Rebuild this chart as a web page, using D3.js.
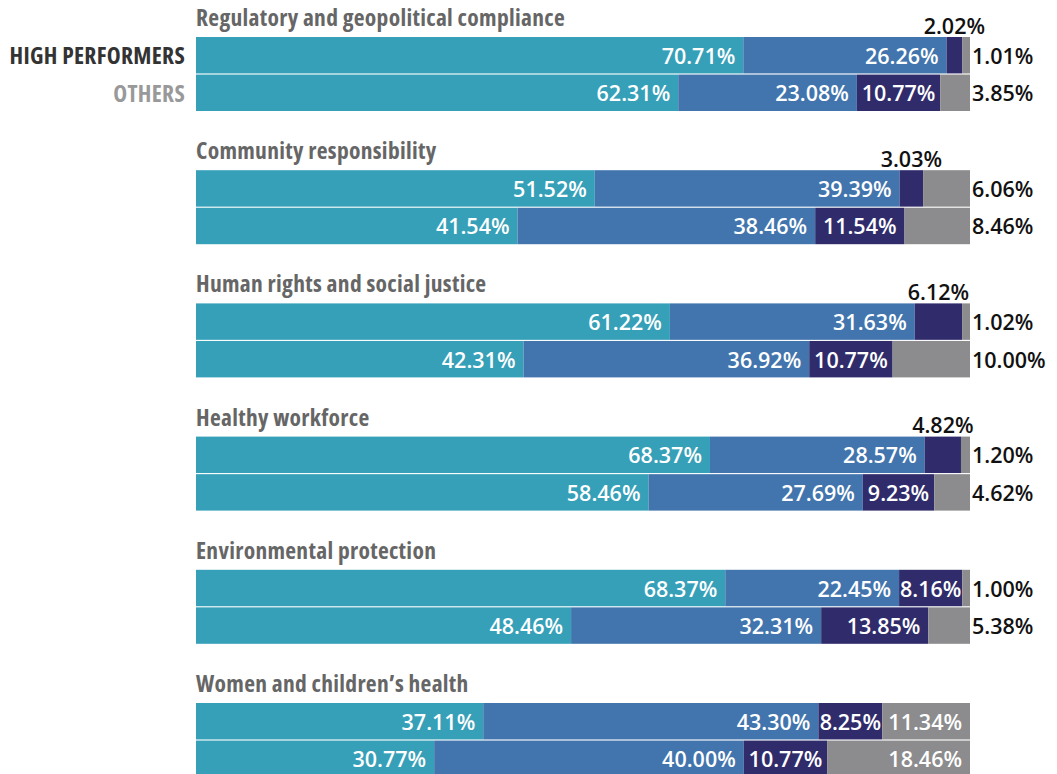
<!DOCTYPE html>
<html><head><meta charset="utf-8">
<script src="https://cdn.jsdelivr.net/npm/d3@7"></script>
<style>
html,body{margin:0;padding:0;background:#fff;}
svg{display:block;}
</style></head>
<body>
<svg id="chart" width="1057" height="774"></svg>
<script>
const categories = [
  "Regulatory and geopolitical compliance",
  "Community responsibility",
  "Human rights and social justice",
  "Healthy workforce",
  "Environmental protection",
  "Women and children\u2019s health"
];
const groups = ["HIGH PERFORMERS", "OTHERS"];
const segments = ["s1", "s2", "s3", "s4"];
const highPerformers = [
  [70.71, 26.26, 2.02, 1.01],
  [51.52, 39.39, 3.03, 6.06],
  [61.22, 31.63, 6.12, 1.02],
  [68.37, 28.57, 4.82, 1.20],
  [68.37, 22.45, 8.16, 1.00],
  [37.11, 43.30, 8.25, 11.34]
];
const others = [
  [62.31, 23.08, 10.77, 3.85],
  [41.54, 38.46, 11.54, 8.46],
  [42.31, 36.92, 10.77, 10.00],
  [58.46, 27.69, 9.23, 4.62],
  [48.46, 32.31, 13.85, 5.38],
  [30.77, 40.00, 10.77, 18.46]
];
const colors = ["#36a0b8", "#4275ad", "#302c6b", "#8c8c8e"];

const svg = d3.select("#chart");
const x = d3.scaleLinear().domain([0, 1]).range([196, 970]);
const y = d3.scaleBand().domain(categories).range([37, 37 + 6 * 133.2])
  .paddingInner(1 - 74 / 133.2).paddingOuter((1 - 74 / 133.2) / 2).align(0);
const yRow = d3.scaleBand().domain(groups).range([0, 74]).paddingInner(0.03);
const color = d3.scaleOrdinal().domain(segments).range(colors);

const rows = [];
categories.forEach((c, i) => {
  [highPerformers[i], others[i]].forEach((vals, j) => {
    const row = {cat: c, grp: groups[j]};
    segments.forEach((s, k) => row[s] = vals[k]);
    rows.push(row);
  });
});

const stack = d3.stack().keys(segments).offset(d3.stackOffsetExpand);
const series = stack(rows);

const numFont = "'Open Sans', sans-serif";

series.forEach((ser, k) => {
  const g = svg.append("g");
  g.selectAll("rect").data(ser).join("rect")
    .attr("x", d => x(d[0]))
    .attr("y", d => y(d.data.cat) + yRow(d.data.grp))
    .attr("width", d => x(d[1]) - x(d[0]))
    .attr("height", yRow.bandwidth())
    .attr("fill", color(ser.key));
});

// labels
series.forEach((ser, k) => {
  const key = ser.key;
  ser.forEach(d => {
    const v = d.data[key];
    const top = y(d.data.cat) + yRow(d.data.grp);
    const cy = top + yRow.bandwidth() / 2;
    const txt = v.toFixed(2) + "%";
    const t = svg.append("text")
      .attr("dominant-baseline", "central")
      .style("font-family", numFont)
      .style("font-size", "21.5px")
      .style("font-weight", 600)
      .text(txt);
    const tw = t.node().getComputedTextLength();
    const x0 = x(d[0]), x1 = x(d[1]);
    let px, py, anchor, fill;
    if (k === 2 && v < 7) {
      px = (x0 + x1) / 2; py = top - 12; anchor = "middle"; fill = "#111";
    } else if (k === 3 && v < 11) {
      px = 972; py = cy; anchor = "start"; fill = "#111";
    } else if (x1 - x0 < tw + 12) {
      px = (x0 + x1) / 2; py = cy; anchor = "middle"; fill = "#fff";
    } else {
      px = x1 - 8; py = cy; anchor = "end"; fill = "#fff";
    }
    t.attr("x", px).attr("y", py).attr("text-anchor", anchor).attr("fill", fill);
  });
});

// category titles
svg.selectAll("text.title").data(categories).join("text")
  .attr("class", "title")
  .attr("x", 196)
  .attr("y", d => y(d) - 11)
  .attr("fill", "#666")
  .style("font-family", "'Open Sans', sans-serif")
  .style("font-stretch", "87%")
  .style("font-weight", 700)
  .style("font-size", "23.5px")
  .style("letter-spacing", "0.3px")
  .text(d => d);

// row labels
svg.selectAll("text.grp").data(groups).join("text")
  .attr("class", "grp")
  .attr("x", 185)
  .attr("y", d => y(categories[0]) + yRow(d) + yRow.bandwidth() / 2)
  .attr("text-anchor", "end")
  .attr("dominant-baseline", "central")
  .attr("fill", (d, i) => i === 0 ? "#333" : "#999")
  .style("font-family", "'Open Sans', sans-serif")
  .style("font-stretch", "87%")
  .style("font-weight", 700)
  .style("font-size", "23.5px")
  .style("letter-spacing", "0.3px")
  .text(d => d);
</script>
</body></html>
